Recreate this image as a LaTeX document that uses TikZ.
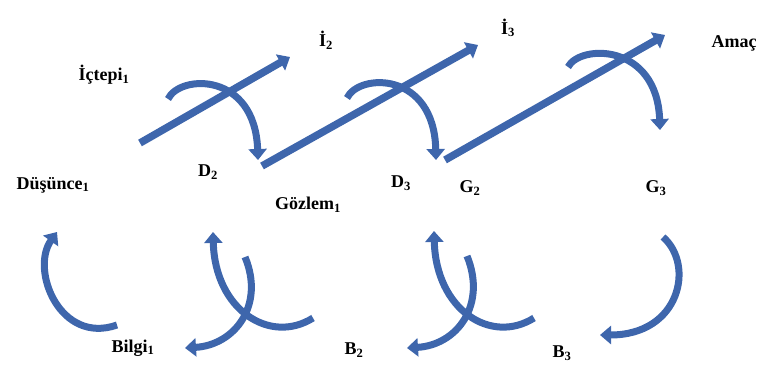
\documentclass[tikz,border=0pt]{standalone}
\usepackage{fontspec}
\setmainfont{Liberation Serif}
\usepackage{tikz}
\usetikzlibrary{arrows.meta}
\definecolor{arrblue}{RGB}{62,102,172}

\begin{document}
\begin{tikzpicture}[x=1pt,y=-1pt,
  lbl/.style={font=\fontsize{18}{21}\selectfont\bfseries,inner sep=0pt},
  arr/.style={-{Triangle[length=11pt,width=18pt]},line width=7.5pt,draw=arrblue},
  carr/.style={-{Triangle[length=11pt,width=18pt]},line width=7pt,draw=arrblue}
]
\useasboundingbox (0,0) rectangle (767,371);

% Labels, upper row
\node[lbl] (i2) at (326,40) {İ\textsubscript{2}};
\node[lbl] (i3) at (508,28) {İ\textsubscript{3}};
\node[lbl] (amac) at (734,43) {Amaç};
\node[lbl] (ictepi) at (104,75) {İçtepi\textsubscript{1}};
\node[lbl] (d2) at (208,172) {D\textsubscript{2}};
\node[lbl] (dusunce) at (53,185) {Düşünce\textsubscript{1}};
\node[lbl] (gozlem) at (308,205) {Gözlem\textsubscript{1}};
\node[lbl] (d3) at (401,183) {D\textsubscript{3}};
\node[lbl] (g2) at (470,188) {G\textsubscript{2}};
\node[lbl] (g3) at (656,188) {G\textsubscript{3}};

% Labels, lower row
\node[lbl] (bilgi) at (133,348) {Bilgi\textsubscript{1}};
\node[lbl] (b2) at (354,350) {B\textsubscript{2}};
\node[lbl] (b3) at (562,353) {B\textsubscript{3}};

% Straight arrows
\coordinate (s1) at (140,143); \coordinate (t1) at (290,57);
\coordinate (s2) at (262,166); \coordinate (t2) at (478,45);
\coordinate (s3) at (445,160); \coordinate (t3) at (665,35);
\draw[arr] (s1) -- (t1);
\draw[arr] (s2) -- (t2);
\draw[arr] (s3) -- (t3);

% Curved arrows over the straight ones
\coordinate (c1) at (168,99);  \coordinate (h1) at (258,160);
\coordinate (c2) at (347,98);  \coordinate (h2) at (436,160);
\coordinate (c3) at (568,67);  \coordinate (h3) at (660,130);
\draw[carr] (c1) .. controls (180,74) and (255,72) .. (h1);
\draw[carr] (c2) .. controls (359,73) and (434,71) .. (h2);
\draw[carr] (c3) .. controls (580,44) and (657,43) .. (h3);

% Curved arrows, lower row
\coordinate (u1) at (117,325); \coordinate (v1) at (57,232);
\draw[carr] (u1) .. controls (60,345) and (30,270) .. (v1);

\coordinate (u2) at (313,318); \coordinate (v2) at (213,232);
\coordinate (w2) at (245,257); \coordinate (x2) at (185,348);
\draw[carr] (u2) .. controls (270,345) and (215,310) .. (v2);
\draw[carr] (w2) .. controls (265,305) and (235,345) .. (x2);

\coordinate (u3) at (534,318); \coordinate (v3) at (434,231);
\coordinate (w3) at (467,256); \coordinate (x3) at (407,348);
\draw[carr] (u3) .. controls (491,345) and (436,310) .. (v3);
\draw[carr] (w3) .. controls (487,305) and (457,345) .. (x3);

\coordinate (u4) at (663,237); \coordinate (v4) at (600,335);
\draw[carr] (u4) .. controls (695,265) and (680,335) .. (v4);

\end{tikzpicture}
\end{document}
